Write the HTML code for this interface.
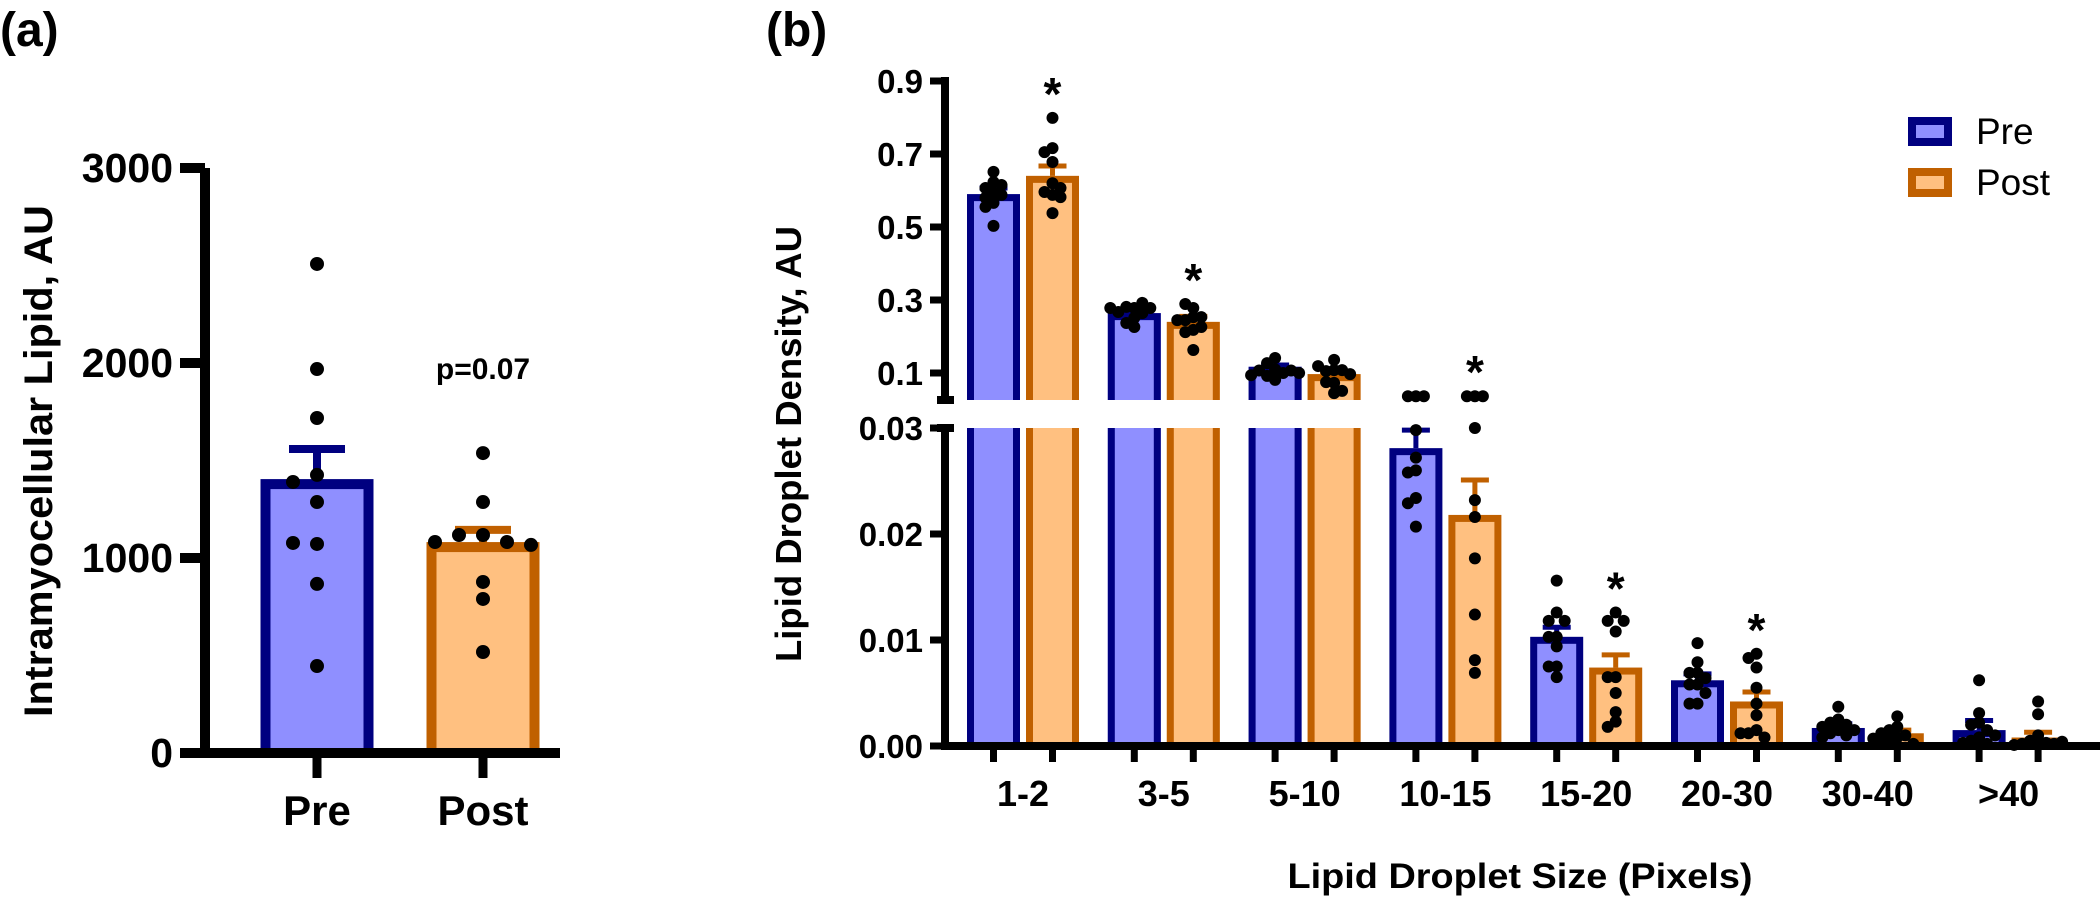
<!DOCTYPE html>
<html><head><meta charset="utf-8"><style>
html,body{margin:0;padding:0;background:#fff}
svg{display:block}
text{font-family:"Liberation Sans",Arial,sans-serif;fill:#000}
</style></head><body>
<svg id="fig" width="2100" height="897" viewBox="0 0 2100 897" xmlns="http://www.w3.org/2000/svg">
<text x="0" y="46" font-size="48" font-weight="bold">(a)</text>
<text x="766" y="46" font-size="48" font-weight="bold">(b)</text>
<g id="pa"></g>
<g id="pb"></g>
</svg>
<script>
// ---------- Panel A data ----------
const aCats = ["Pre", "Post"];
const aMeans = [1379, 1056];
const aErrTop = [1559, 1144];
const aPreDots = [2508, 1969, 1718, 1426, 1390, 1287, 1072, 1077, 867, 446];
const aPostDots = [1538, 1287, 1118, 1118, 1082, 1082, 1067, 877, 790, 518];
const aTicks = [0, 1000, 2000, 3000];
const aPText = "p=0.07";

// ---------- Panel B data ----------
const bCats = ["1-2", "3-5", "5-10", "10-15", "15-20", "20-30", "30-40", ">40"];
const preMean = [0.59, 0.264, 0.117, 0.0281, 0.0103, 0.0062, 0.0017, 0.0015];
const preErrTop = [0.607, 0.27, 0.122, 0.0298, 0.0112, 0.0068, 0.0021, 0.0024];
const postMean = [0.64, 0.24, 0.097, 0.0218, 0.0074, 0.0042, 0.0012, 0.0008];
const postErrTop = [0.667, 0.255, 0.104, 0.0251, 0.0086, 0.0051, 0.0015, 0.0013];
const postSig = [1, 1, 0, 1, 1, 1, 0, 0];
const preDots = [
  [0.623, 0.651, 0.593, 0.607, 0.615, 0.588, 0.566, 0.555, 0.503, 0.58],
  [0.278, 0.281, 0.264, 0.292, 0.267, 0.278, 0.251, 0.226, 0.237, 0.278],
  [0.11, 0.092, 0.1, 0.127, 0.141, 0.107, 0.081, 0.107, 0.094, 0.1],
  [0.033, 0.033, 0.033, 0.0298, 0.0272, 0.026, 0.0258, 0.0234, 0.0229, 0.0207],
  [0.0156, 0.0126, 0.0118, 0.0118, 0.0103, 0.0103, 0.0094, 0.0075, 0.0075, 0.0065],
  [0.0097, 0.0079, 0.0069, 0.0069, 0.0064, 0.0058, 0.0058, 0.005, 0.004, 0.004],
  [0.0037, 0.0025, 0.0022, 0.002, 0.0018, 0.0015, 0.0012, 0.001, 0.0008, 0.0015],
  [0.0062, 0.0031, 0.0022, 0.002, 0.0015, 0.0008, 0.0005, 0.0002, 0.0003, 0.001]
];
const postDots = [
  [0.799, 0.716, 0.705, 0.678, 0.62, 0.588, 0.596, 0.607, 0.582, 0.538],
  [0.253, 0.278, 0.289, 0.245, 0.253, 0.245, 0.218, 0.226, 0.212, 0.163],
  [0.108, 0.105, 0.108, 0.136, 0.119, 0.097, 0.073, 0.075, 0.045, 0.051],
  [0.033, 0.033, 0.033, 0.030, 0.0232, 0.0216, 0.0177, 0.0124, 0.0081, 0.0069],
  [0.0126, 0.0118, 0.0118, 0.0108, 0.0065, 0.0065, 0.005, 0.0032, 0.0023, 0.0018],
  [0.0087, 0.0083, 0.0074, 0.0055, 0.004, 0.0029, 0.0015, 0.0012, 0.0008, 0.0012],
  [0.0028, 0.0018, 0.0015, 0.001, 0.0008, 0.0005, 0.0003, 0.0002, 0.0007, 0.0012],
  [0.0042, 0.003, 0.001, 0.0005, 0.0003, 0.0002, 0.0001, 0.0002, 0.0001, 0.0004]
];
const bUpperTicks = [0.1, 0.3, 0.5, 0.7, 0.9];
const bLowerTicks = [0, 0.01, 0.02, 0.03];
const legendLabels = ["Pre", "Post"];

const NS = "http://www.w3.org/2000/svg";
const PRE_S = "#000080", PRE_F = "#8f8fff", POST_S = "#c06000", POST_F = "#ffc080";
function mk(parent, tag, attrs, txt) {
  const e = document.createElementNS(NS, tag);
  for (const k in attrs) e.setAttribute(k, attrs[k]);
  if (txt !== undefined) e.textContent = txt;
  parent.appendChild(e);
  return e;
}
function jitter(ys, gap) {
  const slots = [0, -1, 1, -2, 2, -3, 3];
  const placed = [];
  return ys.map(y => {
    for (const s of slots) {
      if (!placed.some(p => p.s === s && Math.abs(p.y - y) < gap)) { placed.push({s, y}); return s; }
    }
    placed.push({s: 0, y}); return 0;
  });
}

// ---------- Panel A ----------
const pa = document.getElementById('pa');
const yA = v => 753 - v * 0.195;
const xA = i => 317 + i * 166;
let e;
aCats.forEach((c, i) => {
  const cx = xA(i), w = 103, sw = 10;
  e = mk(pa, 'rect', {x: cx - w / 2, y: yA(aMeans[i]), width: w, height: yA(0) - yA(aMeans[i]), fill: i ? POST_F : PRE_F, stroke: i ? POST_S : PRE_S, 'stroke-width': sw});
  
  
  e = mk(pa, 'path', {d: `M${cx} ${yA(aMeans[i])}V${yA(aErrTop[i])}M${cx - 28} ${yA(aErrTop[i])}H${cx + 28}`, stroke: i ? POST_S : PRE_S, 'stroke-width': 8, fill: 'none'});
  
  
});
[aPreDots, aPostDots].forEach((arr, i) => {
  const js = jitter(arr.map(yA), 14);
  arr.forEach((v, k) => {
    e = mk(pa, 'circle', {cx: xA(i) + js[k] * 24, cy: yA(v), r: 7, fill: '#000'});
    
    
  });
});
e = mk(pa, 'path', {d: `M205 ${yA(3000)}V${yA(0)}M200 ${yA(0)}H560`, stroke: '#000', 'stroke-width': 10, fill: 'none'});


aTicks.forEach(t => {
  mk(pa, 'line', {x1: 180, x2: 205, y1: yA(t), y2: yA(t), stroke: '#000', 'stroke-width': 10});
  e = mk(pa, 'text', {x: 173, y: yA(t) + 14, 'font-size': 41, 'font-weight': 'bold', 'text-anchor': 'end'}, String(t));
  
  
});
aCats.forEach((c, i) => {
  mk(pa, 'line', {x1: xA(i), x2: xA(i), y1: yA(0), y2: 778, stroke: '#000', 'stroke-width': 9});
  e = mk(pa, 'text', {x: xA(i), y: 825, 'font-size': 42, 'font-weight': 'bold', 'text-anchor': 'middle'}, c);
  
  
});
e = mk(pa, 'text', {x: 483, y: 379, 'font-size': 30, 'font-weight': 'bold', 'text-anchor': 'middle'}, aPText);


e = mk(pa, 'text', {transform: 'translate(52,461) rotate(-90)', 'font-size': 40, 'font-weight': 'bold', 'text-anchor': 'middle', textLength: 512, lengthAdjust: 'spacingAndGlyphs'}, 'Intramyocellular Lipid, AU');



// ---------- Panel B ----------
const pb = document.getElementById('pb');
const yU = v => 373 - (v - 0.1) * 365;
const yL = v => 746 - v * 10600;
const yB = v => v <= 0.034 ? yL(v) : yU(v);
const xG = i => 1023 + i * 140.8;
const BW = 53, SW = 7;
function bar(cx, mean, fill, stroke, name) {
  const g = mk(pb, 'g', {});
  
  
  const l = cx - BW / 2 + SW / 2, r = cx + BW / 2 - SW / 2;
  if (mean > 0.03) {
    mk(g, 'rect', {x: cx - BW / 2, y: 428, width: BW, height: 318, fill: fill});
    mk(g, 'path', {d: `M${l} 428V746M${r} 428V746`, stroke: stroke, 'stroke-width': SW, fill: 'none'});
    mk(g, 'rect', {x: cx - BW / 2, y: yU(mean), width: BW, height: 400 - yU(mean), fill: fill});
    mk(g, 'path', {d: `M${l} 400V${yU(mean) + SW / 2}H${r}V400`, stroke: stroke, 'stroke-width': SW, fill: 'none'});
  } else {
    const t = yL(mean);
    mk(g, 'rect', {x: l, y: t + SW / 2, width: r - l, height: Math.max(0, 746 - t - SW / 2), fill: fill, stroke: stroke, 'stroke-width': SW});
  }
}
function err(cx, mean, top, stroke, name) {
  e = mk(pb, 'path', {d: `M${cx} ${yB(mean)}V${yB(top)}M${cx - 14} ${yB(top)}H${cx + 14}`, stroke: stroke, 'stroke-width': 5, fill: 'none'});
  
  
}
bCats.forEach((c, i) => {
  const px = xG(i) - 29.5, qx = xG(i) + 29.5;
  bar(px, preMean[i], PRE_F, PRE_S, 'bar-pre-' + c);
  bar(qx, postMean[i], POST_F, POST_S, 'bar-post-' + c);
  err(px, preMean[i], preErrTop[i], PRE_S, 'error-bar-pre');
  err(qx, postMean[i], postErrTop[i], POST_S, 'error-bar-post');
});
bCats.forEach((c, i) => {
  [[preDots[i], xG(i) - 29.5, 'dot-pre'], [postDots[i], xG(i) + 29.5, 'dot-post']].forEach(([arr, cx, nm]) => {
    const js = jitter(arr.map(yB), 9);
    arr.forEach((v, k) => {
      e = mk(pb, 'circle', {cx: cx + js[k] * 8, cy: yB(v), r: 6, fill: '#000'});
      
      
    });
  });
  if (postSig[i]) {
    const yy = Math.min.apply(null, postDots[i].map(yB).concat([yB(postErrTop[i])])) - 22;
    e = mk(pb, 'text', {x: xG(i) + 29.5, y: yy + 14, 'font-size': 46, 'font-weight': 'bold', 'text-anchor': 'middle'}, '*');
    
    
  }
});
e = mk(pb, 'path', {d: `M945 ${yU(0.9) - 4}V400M937 400H954M945 428V746M937 428H954M941 746H2100`, stroke: '#000', 'stroke-width': 8, fill: 'none'});


bUpperTicks.forEach(t => {
  mk(pb, 'line', {x1: 930, x2: 945, y1: yU(t), y2: yU(t), stroke: '#000', 'stroke-width': 7});
  e = mk(pb, 'text', {x: 923, y: yU(t) + 12, 'font-size': 33, 'font-weight': 'bold', 'text-anchor': 'end'}, t.toFixed(1));
  
  
});
bLowerTicks.forEach(t => {
  mk(pb, 'line', {x1: 930, x2: 945, y1: yL(t), y2: yL(t), stroke: '#000', 'stroke-width': 7});
  e = mk(pb, 'text', {x: 923, y: yL(t) + 12, 'font-size': 33, 'font-weight': 'bold', 'text-anchor': 'end'}, t.toFixed(2));
  
  
});
bCats.forEach((c, i) => {
  [xG(i) - 29.5, xG(i) + 29.5].forEach(x => mk(pb, 'line', {x1: x, x2: x, y1: 746, y2: 762, stroke: '#000', 'stroke-width': 7}));
  e = mk(pb, 'text', {x: xG(i), y: 806, 'font-size': 36, 'font-weight': 'bold', 'text-anchor': 'middle'}, c);
  
  
});
e = mk(pb, 'text', {x: 1520, y: 888, 'font-size': 35, 'font-weight': 'bold', 'text-anchor': 'middle', textLength: 465, lengthAdjust: 'spacingAndGlyphs'}, 'Lipid Droplet Size (Pixels)');


e = mk(pb, 'text', {transform: 'translate(801,444) rotate(-90)', 'font-size': 36, 'font-weight': 'bold', 'text-anchor': 'middle', textLength: 436, lengthAdjust: 'spacingAndGlyphs'}, 'Lipid Droplet Density, AU');


legendLabels.forEach((l, i) => {
  const y = 117 + i * 51;
  const g = mk(pb, 'g', {});
  
  
  mk(g, 'rect', {x: 1912, y: y + 4, width: 36, height: 21, fill: i ? POST_F : PRE_F, stroke: i ? POST_S : PRE_S, 'stroke-width': 8});
  mk(g, 'text', {x: 1976, y: y + 27, 'font-size': 37}, l);
});
</script>
</body></html>
